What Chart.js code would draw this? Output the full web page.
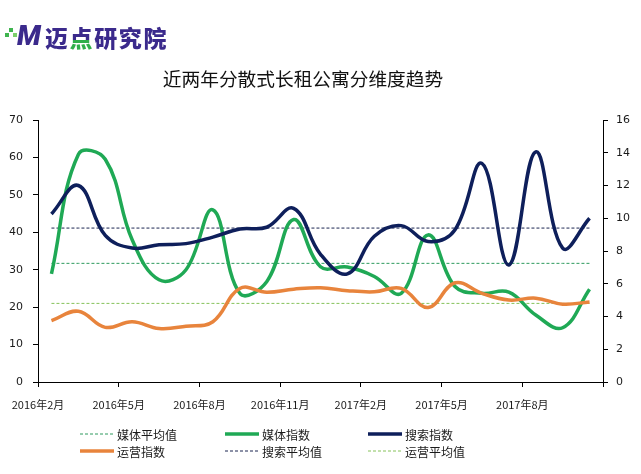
<!DOCTYPE html>
<html>
<head>
<meta charset="utf-8">
<script src="https://cdn.jsdelivr.net/npm/chart.js@4.4.1/dist/chart.umd.min.js"></script>
<style>
    html, body { margin: 0; padding: 0; background: #fff; }
    #wrap { position: relative; width: 641px; height: 474px; overflow: hidden; }
    #logo { position: absolute; left: 3px; top: 24px; height: 26px; white-space: nowrap; color: #3b2a8c; }
    #logo .dot { position: absolute; width: 4px; height: 4px; background: #3fb54f; }
    #logo .m { position: absolute; left: 14px; top: -2px; font: italic 900 28px Roboto, "DejaVu Sans", sans-serif; line-height: 28px; }
    #logo .cn { position: absolute; left: 42px; top: 1px; font: 900 23px "Noto Sans CJK SC", sans-serif; line-height: 24px; letter-spacing: 1.6px; }
    #logo .dian { background: linear-gradient(#3b2a8c 0, #3b2a8c 58%, #2fae4a 58%); -webkit-background-clip: text; background-clip: text; color: transparent; }
    #title { position: absolute; top: 65px; left: 0; width: 606px; text-align: center; font: 18.7px "Noto Sans CJK SC", sans-serif; color: #111; line-height: 26px; }
</style>
</head>
<body>
<div id="wrap">
    <canvas id="chart" width="641" height="474"></canvas>
    <div id="logo">
        <span class="dot" style="left:2px;top:9px"></span>
        <span class="dot" style="left:6px;top:4px"></span>
        <span class="dot" style="left:10px;top:9px;background:#7ccf6a"></span>
        <span class="m">M</span>
        <span class="cn">迈<span class="dian">点</span>研究院</span>
    </div>
    <div id="title">近两年分散式长租公寓分维度趋势</div>
</div>
<script>
// months 2016-02 .. 2017-10
const months = ['2016-02', '2016-03', '2016-04', '2016-05', '2016-06', '2016-07', '2016-08',
    '2016-09', '2016-10', '2016-11', '2016-12', '2017-01', '2017-02', '2017-03', '2017-04',
    '2017-05', '2017-06', '2017-07', '2017-08', '2017-09', '2017-10'];

const tickLabels = ['2016年2月', '2016年5月', '2016年8月', '2016年11月', '2017年2月', '2017年5月', '2017年8月', ''];

// left axis
const mediaIndex = [28.9, 60.8, 59.5, 38.0, 27.3, 30.0, 46.0, 23.7, 26.8, 43.4, 30.8,
    30.7, 28.2, 23.7, 39.3, 25.5, 23.7, 24.0, 17.9, 14.5, 24.8];
const opsIndex = [16.4, 18.9, 14.6, 16.1, 14.3, 14.9, 16.1, 25.0, 24.0, 24.8, 25.2,
    24.4, 24.1, 25.0, 19.9, 26.5, 23.7, 21.9, 22.4, 20.8, 21.4];
// right axis
const searchIndex = [10.26, 12.0, 8.95, 8.18, 8.38, 8.45, 8.85, 9.34, 9.45, 10.6, 7.8,
    6.6, 8.9, 9.55, 8.58, 9.3, 13.35, 7.15, 14.05, 8.18, 10.0];

const mediaAvg = 31.7;
const searchAvg = 9.4;
const opsAvg = 21.0;

const leftTicks = {min: 0, max: 70, step: 10};
const rightTicks = {min: 0, max: 16, step: 2};

function points(values) {
    return values.map((v, i) => ({x: i, y: v}));
}

function flat(value) {
    return months.map((m, i) => ({x: i, y: value}));
}

const legendColX = [80, 225, 368];
const legendRowY = [434, 451];

const gridLegend = {
    id: 'gridLegend',
    afterDraw(chart) {
        const ctx = chart.ctx;
        chart.data.datasets.forEach((ds, k) => {
            const x = legendColX[k % 3];
            const y = legendRowY[Math.floor(k / 3)];
            ctx.save();
            ctx.beginPath();
            ctx.moveTo(x, y);
            ctx.lineTo(x + 34, y);
            ctx.lineWidth = ds.borderWidth;
            ctx.strokeStyle = ds.borderColor;
            ctx.setLineDash(ds.borderDash || []);
            ctx.stroke();
            ctx.setLineDash([]);
            ctx.fillStyle = '#1a1a1a';
            ctx.font = '12px "Noto Sans CJK SC", sans-serif';
            ctx.textBaseline = 'middle';
            ctx.fillText(ds.label, x + 37, y + 1);
            ctx.restore();
        });
    }
};

const tickFont = {family: '"DejaVu Sans", sans-serif', size: 11};
const xFont = {family: '"Noto Sans CJK SC", sans-serif', size: 11};

const config = {
    type: 'line',
    data: {
        datasets: [
            {label: '媒体平均值', data: flat(mediaAvg), borderColor: '#2e9a5e', borderWidth: 1, borderDash: [3, 2], tension: 0, yAxisID: 'y', order: 5},
            {label: '媒体指数', data: points(mediaIndex), borderColor: '#1fa955', borderWidth: 3.5, tension: 0.4, yAxisID: 'y', order: 3},
            {label: '搜索指数', data: points(searchIndex), borderColor: '#0e1f5b', borderWidth: 3.5, tension: 0.4, yAxisID: 'y1', order: 2},
            {label: '运营指数', data: points(opsIndex), borderColor: '#e8843c', borderWidth: 3.5, tension: 0.4, yAxisID: 'y', order: 1},
            {label: '搜索平均值', data: flat(searchAvg), borderColor: '#1b2550', borderWidth: 1, borderDash: [3, 2], tension: 0, yAxisID: 'y1', order: 5},
            {label: '运营平均值', data: flat(opsAvg), borderColor: '#86c25a', borderWidth: 1, borderDash: [3, 2], tension: 0, yAxisID: 'y', order: 5}
        ]
    },
    options: {
        responsive: false,
        animation: false,
        elements: {point: {radius: 0, hoverRadius: 0}},
        layout: {padding: {top: 120, left: 0, right: 0, bottom: 0}},
        plugins: {
            legend: {display: false},
            title: {display: false},
            tooltip: {enabled: false}
        },
        scales: {
            x: {
                type: 'linear',
                min: -0.5,
                max: months.length - 0.5,
                afterBuildTicks(scale) {
                    scale.ticks = tickLabels.map((l, i) => ({value: -0.5 + i * 3}));
                },
                afterFit(scale) {
                    scale.height = 92;
                },
                grid: {drawOnChartArea: false, drawTicks: true, tickLength: 5, color: '#000'},
                border: {color: '#000', width: 1},
                ticks: {
                    color: '#1a1a1a',
                    font: xFont,
                    padding: 11,
                    maxRotation: 0,
                    autoSkip: false,
                    callback: (v, i) => tickLabels[i]
                }
            },
            y: {
                position: 'left',
                min: leftTicks.min,
                max: leftTicks.max,
                afterFit(scale) {
                    scale.width = 38;
                },
                grid: {drawOnChartArea: false, drawTicks: true, tickLength: 5, color: '#000'},
                border: {color: '#000', width: 1},
                ticks: {stepSize: leftTicks.step, color: '#1a1a1a', font: tickFont, padding: 10}
            },
            y1: {
                position: 'right',
                min: rightTicks.min,
                max: rightTicks.max,
                afterFit(scale) {
                    scale.width = 38;
                },
                grid: {drawOnChartArea: false, drawTicks: true, tickLength: 5, color: '#000'},
                border: {color: '#000', width: 1},
                ticks: {stepSize: rightTicks.step, color: '#1a1a1a', font: tickFont, padding: 8}
            }
        }
    },
    plugins: [gridLegend]
};

new Chart(document.getElementById('chart').getContext('2d'), config);
</script>
</body>
</html>
